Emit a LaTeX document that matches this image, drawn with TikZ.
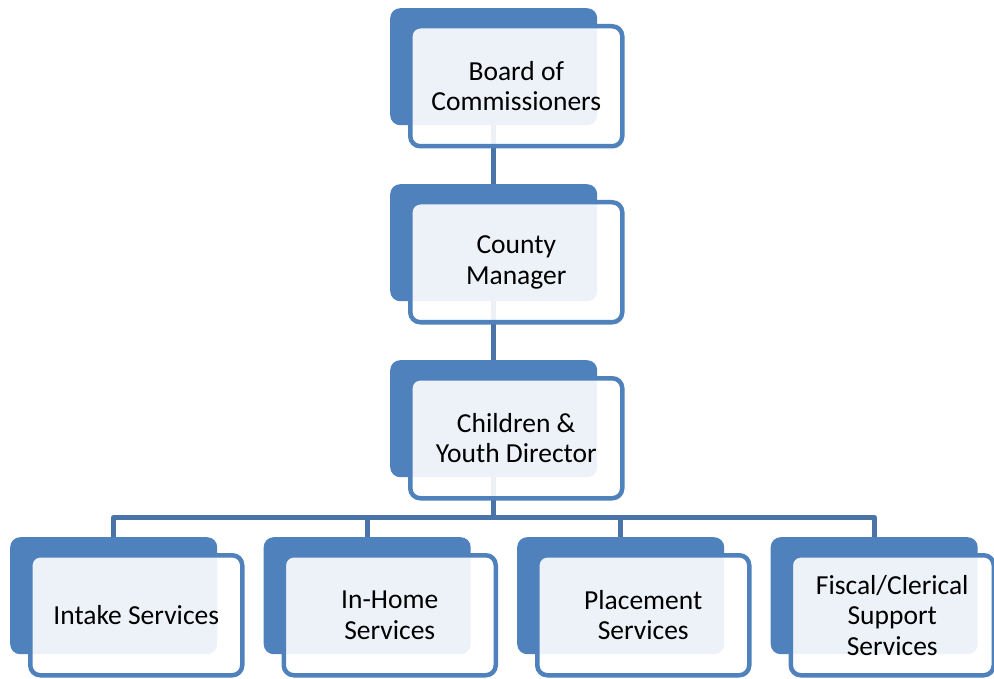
\documentclass[tikz,border=0pt]{standalone}
\usepackage{fontspec}
\setmainfont{Carlito}
\definecolor{myblue}{HTML}{4F81BD}
\definecolor{connblue}{HTML}{4A74A9}
\begin{document}
\begin{tikzpicture}[x=1pt,y=-1pt,
  backbox/.style={rectangle, rounded corners=10pt, fill=myblue, minimum width=207pt, minimum height=117pt, inner sep=0pt, anchor=north west},
  frontbox/.style={rectangle, rounded corners=10pt, draw=myblue, line width=4.5pt, fill=white, fill opacity=0.9, draw opacity=1, text opacity=1, minimum width=212pt, minimum height=120pt, inner sep=0pt, anchor=north west, align=center, text=black, font=\fontsize{27.5}{30.5}\selectfont},
  conn/.style={draw=connblue, line width=5pt}]
\useasboundingbox (0,0) rectangle (994,679);
% back boxes
\node[backbox] (b1) at (390,8) {};
\node[backbox] (b2) at (390,184) {};
\node[backbox] (b3) at (390,360) {};
\node[backbox] (bi) at (10,537) {};
\node[backbox] (bh) at (263.5,537) {};
\node[backbox] (bp) at (517,537) {};
\node[backbox] (bf) at (770.5,537) {};
% connectors
\draw[conn] (b1.south) -- (b2.north);
\draw[conn] (b2.south) -- (b3.north);
\draw[conn] (b3.south) -- ++(0,40) coordinate (bus);
\draw[conn, line join=round] (bi.north) |- (bus) -| (bf.north);
\draw[conn] (bh.north) |- (bus);
\draw[conn] (bp.north) |- (bus);
% front boxes
\node[frontbox] (f1) at (408,24) {Board of\\Commissioners};
\node[frontbox] (f2) at (408,200) {County\\Manager};
\node[frontbox] (f3) at (408,376) {Children \&\\Youth Director};
\node[frontbox] (fi) at (28,553) {Intake Services};
\node[frontbox] (fh) at (281.5,553) {In-Home\\Services};
\node[frontbox] (fp) at (535,553) {Placement\\Services};
\node[frontbox, minimum width=203pt] (ff) at (788.5,553) {Fiscal/Clerical\\Support\\Services};
\end{tikzpicture}
\end{document}
